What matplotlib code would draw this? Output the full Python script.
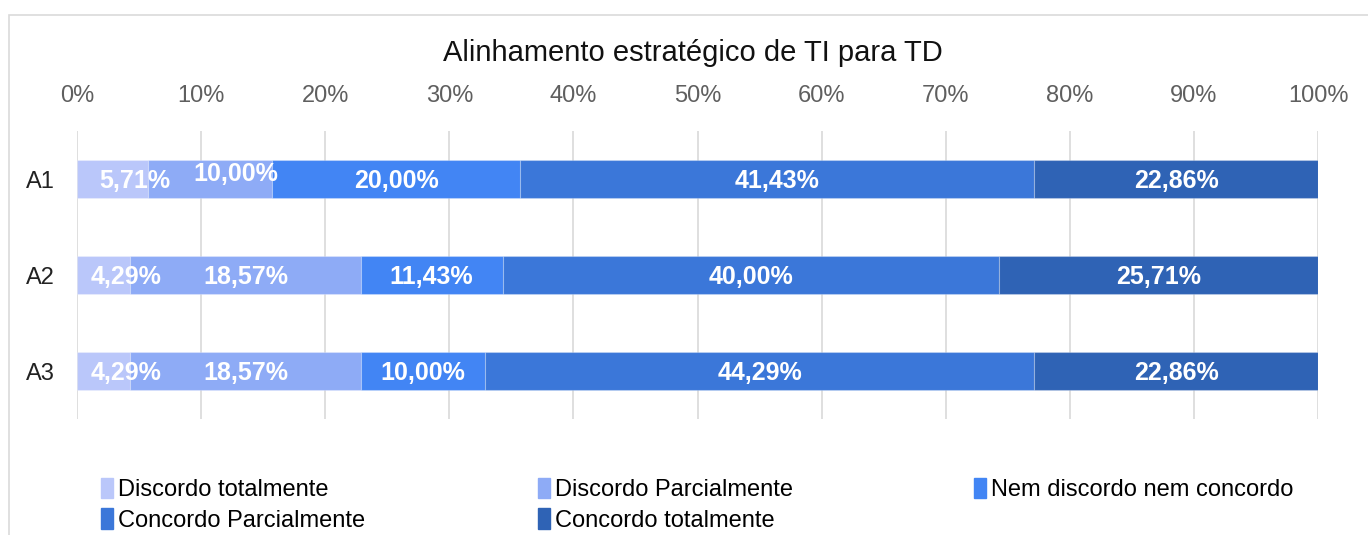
import matplotlib.pyplot as plt
import matplotlib.patches as mpatches
import numpy as np

plt.rcParams['font.family'] = ['Liberation Sans', 'DejaVu Sans']

categories = ['A1', 'A2', 'A3']
series_names = ['Discordo totalmente', 'Discordo Parcialmente', 'Nem discordo nem concordo',
                'Concordo Parcialmente', 'Concordo totalmente']
values = [
    [5.71, 4.29, 4.29],      # Discordo totalmente
    [10.00, 18.57, 18.57],   # Discordo Parcialmente
    [20.00, 11.43, 10.00],   # Nem discordo nem concordo
    [41.43, 40.00, 44.29],   # Concordo Parcialmente
    [22.86, 25.71, 22.86],   # Concordo totalmente
]
colors = ['#bac7fa', '#8eabf6', '#4285f4', '#3b77d9', '#2f63b5']
xticks = np.arange(0, 101, 10)


def fmt(v):
    return ('%.2f%%' % v).replace('.', ',')


fig = plt.figure(figsize=(13.68, 5.35), dpi=100)
ax = fig.add_axes([77 / 1368, 1 - 419 / 535, 1241 / 1368, 288 / 535])

# outer chart frame (partly cropped in the original)
fig.patches.append(mpatches.Rectangle((9 / 1368, -0.1), 1.2, 1 - 15 / 535 + 0.1,
                                      transform=fig.transFigure, fill=False,
                                      edgecolor='#dadada', linewidth=1.2))

y = np.arange(len(categories))
left = np.zeros(len(categories))
half_w = 3.35
for i, (name, vals) in enumerate(zip(series_names, values)):
    ax.barh(y, vals, left=left, height=0.4, color=colors[i], label=name,
            edgecolor=(1, 1, 1, 0.25), linewidth=0.8, zorder=3)
    left = left + np.array(vals)

# data labels (nudged right/up when they would collide, like the original)
for j in range(len(categories)):
    start = 0.0
    prev_right = -100
    for i in range(len(series_names)):
        v = values[i][j]
        cx = start + v / 2
        if v < 7:
            cx += 1.8
        dy = 0.02
        if cx - half_w < prev_right + 1.0:
            cx = prev_right + 1.45 + half_w
            dy = -0.05
        ax.text(cx, y[j] + dy, fmt(v), ha='center', va='center',
                color='white', fontsize=18, fontweight='bold', zorder=4)
        prev_right = cx + half_w
        start += v

ax.set_xlim(0, 100)
ax.set_ylim(2.5, -0.5)
ax.set_xticks(xticks)
ax.set_xticklabels(['%d%%' % t for t in xticks])
ax.xaxis.tick_top()
ax.tick_params(axis='x', length=0, pad=17, labelsize=17, labelcolor='#5f5f5f')
ax.set_yticks(y)
ax.set_yticklabels(categories)
ax.tick_params(axis='y', length=0, pad=16, labelsize=17, labelcolor='#222222')
ax.grid(axis='x', color='#d9d9d9', linewidth=1.2, zorder=0)
for s in ax.spines.values():
    s.set_visible(False)

fig.text(693 / 1368, 1 - 53 / 535, 'Alinhamento estratégico de TI para TD', ha='center',
         va='center', fontsize=21, color='#111111')

handles = [mpatches.Patch(color=c) for c in colors]
cols = [[0, 3], [1, 4], [2]]
xs = [101, 538, 974]
for col, x in zip(cols, xs):
    fig.legend([handles[k] for k in col], [series_names[k] for k in col],
               loc='upper left', bbox_to_anchor=(x / 1368, 1 - 478 / 535),
               frameon=False, fontsize=17, handlelength=0.5, handleheight=0.95,
               handletextpad=0.2, labelspacing=0.3, borderaxespad=0, borderpad=0)

fig.savefig('out.png', dpi=100)
